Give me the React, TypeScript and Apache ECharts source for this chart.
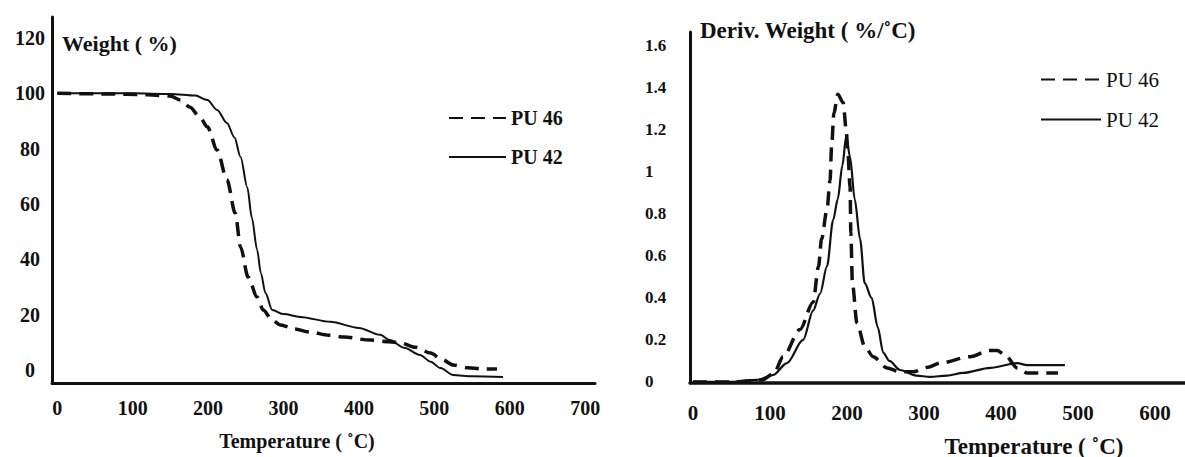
import React, { useEffect, useRef } from "react";
import * as echarts from "echarts";

// ---- TGA (left) ----
const tgaTempPU46 = [0, 60, 120, 150, 163, 176, 190, 199, 212, 225, 236, 243, 253, 265, 273, 285, 296, 315, 335, 360, 380, 415, 440, 455, 475, 495, 510, 525, 545, 561, 583];
const tgaWeightPU46 = [100, 99.8, 99.5, 99, 97.6, 95, 91, 87.9, 79.5, 68.7, 56.7, 44.5, 33.6, 26.4, 21.7, 18, 16.3, 14.8, 13.7, 12.6, 11.9, 10.8, 10.2, 9.8, 8.2, 6.1, 3.8, 1.8, 0.8, 0.4, 0.4];
const tgaTempPU42 = [0, 100, 150, 183, 199, 212, 225, 235, 243, 252, 258, 265, 270, 276, 285, 300, 322, 362, 400, 428, 441, 460, 481, 495, 508, 525, 550, 591];
const tgaWeightPU42 = [100, 100, 99.8, 99.2, 97.6, 94, 89.3, 84, 77, 66, 55, 43.4, 35, 27.8, 21.7, 20.2, 19.2, 17.4, 15.2, 12.7, 10.8, 8, 5.4, 3, 0.7, -1.8, -2.3, -2.5];

// ---- DTG (right) ----
const dtgTempPU46 = [0, 50, 90, 105, 117, 139, 156, 163, 167, 174, 178, 180, 183, 188, 195, 199, 201, 204, 205, 207, 213, 223, 234, 252, 269, 286, 305, 321, 360, 385, 395, 405, 421, 434, 474];
const dtgDerivPU46 = [0, 0, 0.01, 0.04, 0.12, 0.25, 0.38, 0.55, 0.68, 0.82, 0.96, 1.12, 1.28, 1.37, 1.33, 1.2, 1.1, 0.93, 0.71, 0.47, 0.28, 0.17, 0.12, 0.067, 0.048, 0.048, 0.07, 0.09, 0.12, 0.15, 0.15, 0.13, 0.067, 0.043, 0.043];
const dtgTempPU42 = [0, 50, 83, 104, 122, 143, 156, 165, 174, 182, 188, 194, 199, 204, 210, 217, 223, 232, 240, 247, 255, 269, 290, 308, 330, 351, 386, 421, 434, 483];
const dtgDerivPU42 = [0, 0, 0.01, 0.033, 0.09, 0.2, 0.34, 0.42, 0.55, 0.77, 0.87, 1.03, 1.17, 1.07, 0.87, 0.68, 0.47, 0.4, 0.26, 0.14, 0.1, 0.057, 0.03, 0.024, 0.03, 0.043, 0.067, 0.09, 0.08, 0.08];

const tgaXTicks = [0, 100, 200, 300, 400, 500, 600, 700];
const tgaYTicks = [0, 20, 40, 60, 80, 100, 120];
const dtgXTicks = [0, 100, 200, 300, 400, 500, 600];
const dtgYTicks = [0, 0.2, 0.4, 0.6, 0.8, 1, 1.2, 1.4, 1.6];

const seriesNames = ["PU 46", "PU 42"];

const FONT = '"Liberation Serif", "Times New Roman", serif';
const INK = "#111111";

const zip = (xs: number[], ys: number[]) => xs.map((x, i) => [x, ys[i]]);

export default function App() {
  const ref = useRef<HTMLDivElement>(null);

  useEffect(() => {
    document.body.style.margin = "0";
    if (!ref.current) return;
    const chart = echarts.init(ref.current, undefined, { renderer: "svg" });

    const dashed = (w: number) => ({ color: INK, width: w, type: [14, 8] as any, cap: "butt" as any });
    const solid = (w: number) => ({ color: INK, width: w, type: "solid" as any });

    const axisCommon = {
      axisTick: { show: false },
      splitLine: { show: false },
    };

    chart.setOption({
      animation: false,
      backgroundColor: "#ffffff",
      grid: [
        { left: 52, right: 590, top: 17, bottom: 74 },
        { left: 690, right: 0, top: 32, bottom: 74 },
      ],
      xAxis: [
        {
          ...axisCommon,
          type: "value",
          gridIndex: 0,
          min: -7,
          max: 713,
          axisLine: { onZero: false, lineStyle: { color: INK, width: 3 } },
          axisLabel: {
            customValues: tgaXTicks,
            margin: 15,
            fontFamily: FONT,
            fontWeight: "bold",
            fontSize: 20,
            color: INK,
          },
        },
        {
          ...axisCommon,
          type: "value",
          gridIndex: 1,
          min: -3.9,
          max: 639,
          axisLine: { onZero: false, lineStyle: { color: INK, width: 3.5 } },
          axisLabel: {
            customValues: dtgXTicks,
            margin: 19,
            fontFamily: FONT,
            fontWeight: "bold",
            fontSize: 21,
            color: INK,
          },
        },
      ],
      yAxis: [
        {
          ...axisCommon,
          type: "value",
          gridIndex: 0,
          min: -4.7,
          max: 127.6,
          axisLine: { onZero: false, lineStyle: { color: INK, width: 3 } },
          axisLabel: {
            customValues: tgaYTicks,
            margin: 22,
            align: "center",
            fontFamily: FONT,
            fontWeight: "bold",
            fontSize: 20,
            color: INK,
          },
        },
        {
          ...axisCommon,
          type: "value",
          gridIndex: 1,
          min: -0.005,
          max: 1.666,
          axisLine: { onZero: false, lineStyle: { color: INK, width: 3 } },
          axisLabel: {
            customValues: dtgYTicks,
            margin: 45,
            align: "left",
            fontFamily: FONT,
            fontWeight: "bold",
            fontSize: 17,
            color: INK,
            formatter: (v: number) => (v === 0 ? "0" : v === 1 ? "1" : v.toFixed(1)),
          },
        },
      ],
      legend: [
        {
          data: seriesNames,
          orient: "vertical",
          left: 443,
          top: 103,
          itemWidth: 57,
          itemHeight: 14,
          itemGap: 19,
          selectedMode: false,
          itemStyle: { opacity: 0, borderWidth: 0 },
          textStyle: { fontFamily: FONT, fontWeight: "bold", fontSize: 20, color: INK },
        },
        {
          data: seriesNames,
          orient: "vertical",
          left: 1035,
          top: 64,
          itemWidth: 60,
          itemHeight: 14,
          itemGap: 19,
          selectedMode: false,
          itemStyle: { opacity: 0, borderWidth: 0 },
          textStyle: { fontFamily: FONT, fontWeight: "normal", fontSize: 21, color: INK },
        },
      ],
      graphic: [
        {
          type: "text",
          x: 62,
          y: 43,
          style: {
            text: "Weight ( %)",
            font: `bold 22px ${FONT}`,
            fill: INK,
            align: "left",
            verticalAlign: "middle",
          },
        },
        {
          type: "text",
          x: 297,
          y: 441,
          style: {
            text: "Temperature ( ˚C)",
            font: `bold 20px ${FONT}`,
            fill: INK,
            align: "center",
            verticalAlign: "middle",
          },
        },
        {
          type: "text",
          x: 700,
          y: 30,
          style: {
            text: "Deriv. Weight ( %/˚C)",
            font: `bold 23px ${FONT}`,
            fill: INK,
            align: "left",
            verticalAlign: "middle",
          },
        },
        {
          type: "text",
          x: 1034,
          y: 446,
          style: {
            text: "Temperature ( ˚C)",
            font: `bold 23px ${FONT}`,
            fill: INK,
            align: "center",
            verticalAlign: "middle",
          },
        },
      ],
      series: [
        {
          type: "line",
          name: "PU 46",
          xAxisIndex: 0,
          yAxisIndex: 0,
          data: zip(tgaTempPU46, tgaWeightPU46),
          symbol: "none",
          showSymbol: false,
          smooth: 0.3,
          smoothMonotone: "x",
          lineStyle: dashed(3.5),
          itemStyle: { color: INK },
        },
        {
          type: "line",
          name: "PU 42",
          xAxisIndex: 0,
          yAxisIndex: 0,
          data: zip(tgaTempPU42, tgaWeightPU42),
          symbol: "none",
          showSymbol: false,
          smooth: 0.3,
          smoothMonotone: "x",
          lineStyle: solid(2),
          itemStyle: { color: INK },
        },
        {
          type: "line",
          name: "PU 46",
          xAxisIndex: 1,
          yAxisIndex: 1,
          data: zip(dtgTempPU46, dtgDerivPU46),
          symbol: "none",
          showSymbol: false,
          smooth: 0.3,
          smoothMonotone: "x",
          lineStyle: dashed(3.5),
          itemStyle: { color: INK },
        },
        {
          type: "line",
          name: "PU 42",
          xAxisIndex: 1,
          yAxisIndex: 1,
          data: zip(dtgTempPU42, dtgDerivPU42),
          symbol: "none",
          showSymbol: false,
          smooth: 0.3,
          smoothMonotone: "x",
          lineStyle: solid(2.2),
          itemStyle: { color: INK },
        },
      ],
    });

    return () => {
      chart.dispose();
    };
  }, []);

  return <div ref={ref} style={{ width: 1185, height: 457 }} />;
}
